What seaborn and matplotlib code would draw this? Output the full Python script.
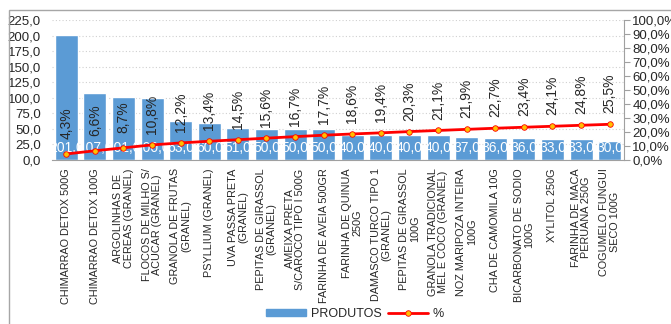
import numpy as np
import pandas as pd
import matplotlib
matplotlib.use("Agg")
import matplotlib.pyplot as plt
from matplotlib.patches import Rectangle, Patch
from matplotlib.lines import Line2D
from matplotlib.ticker import FuncFormatter, MultipleLocator
import seaborn as sns

# --- data -----------------------------------------------------------------
produtos = [
    "CHIMARRAO DETOX 500G",
    "CHIMARRAO DETOX 100G",
    "ARGOLINHAS DE\nCEREAS (GRANEL)",
    "FLOCOS DE MILHO S/\nACUCAR (GRANEL)",
    "GRANOLA DE FRUTAS\n(GRANEL)",
    "PSYLLIUM (GRANEL)",
    "UVA PASSA PRETA\n(GRANEL)",
    "PEPITAS DE GIRASSOL\n(GRANEL)",
    "AMEIXA PRETA\nS/CAROCO TIPO I 500G",
    "FARINHA DE AVEIA 500GR",
    "FARINHA DE QUINUA\n250G",
    "DAMASCO TURCO TIPO 1\n(GRANEL)",
    "PEPITAS DE GIRASSOL\n100G",
    "GRANOLA TRADICIONAL\nMEL E COCO (GRANEL)",
    "NOZ MARIPOZA INTEIRA\n100G",
    "CHA DE CAMOMILA 10G",
    "BICARBONATO DE SODIO\n100G",
    "XYLITOL 250G",
    "FARINHA DE MACA\nPERUANA 250G",
    "COGUMELO FUNGUI\nSECO 100G",
]
quantidades = [201, 107, 101, 100, 63, 60, 51, 50, 50, 50,
               40, 40, 40, 40, 37, 36, 36, 33, 33, 30]
percentuais = [4.3, 6.6, 8.7, 10.8, 12.2, 13.4, 14.5, 15.6, 16.7, 17.7,
               18.6, 19.4, 20.3, 21.1, 21.9, 22.7, 23.4, 24.1, 24.8, 25.5]

df = pd.DataFrame({
    "produto": produtos,
    "qtd": quantidades,
    "pct": percentuais,
    "pos": np.arange(len(produtos)),
})

# --- style ----------------------------------------------------------------
sns.set_theme(style="white")
plt.rcParams["font.family"] = ["Liberation Sans", "DejaVu Sans"]

BLUE = "#5B9BD5"
RED = "#FF0000"
MARK = "#FFC000"
TXT = "#262626"

fig = plt.figure(figsize=(6.71, 3.24), dpi=100)
ax = fig.add_axes([52 / 671, 164 / 324, 572 / 671, 140 / 324])

# outer chart frame
fig.patches.append(Rectangle((9 / 671, -0.1), 1.2, 314 / 324 + 0.1,
                             transform=fig.transFigure, fill=False,
                             edgecolor="#a6a6a6", linewidth=1.0, zorder=0))

# bars
sns.barplot(data=df, x="pos", y="qtd", color=BLUE, saturation=1,
            width=0.81, ax=ax, zorder=2)
ax.set_xlim(-0.5, len(produtos) - 0.5)
ax.set_ylim(0, 225)
ax.yaxis.set_major_locator(MultipleLocator(25))
ax.yaxis.set_major_formatter(FuncFormatter(lambda v, p: f"{v:.1f}".replace(".", ",")))
ax.yaxis.grid(True, linestyle=(0, (1, 2)), color="#d0d0d0", linewidth=0.8, zorder=0)
ax.set_axisbelow(True)
ax.set_xlabel("")
ax.set_ylabel("")
ax.tick_params(axis="y", labelsize=9.5, colors=TXT, length=0, pad=8)

# category labels, rotated and anchored to the axis
ax.set_xticks(df["pos"])
ax.set_xticklabels(df["produto"], rotation=90, fontsize=7.8, color=TXT,
                   ha="center", va="top", multialignment="center",
                   linespacing=1.05)
ax.tick_params(axis="x", length=0, pad=6)
# small boundary ticks between categories
ax.set_xticks(np.arange(len(produtos) + 1) - 0.5, minor=True)
ax.tick_params(axis="x", which="minor", length=4, color="#a0a0a0", direction="out")

for s in ["top", "left", "right"]:
    ax.spines[s].set_visible(False)
ax.spines["bottom"].set_color("#a0a0a0")
ax.spines["bottom"].set_linewidth(0.8)

# bar value labels near the base of each bar
for i, v in enumerate(df["qtd"]):
    ax.annotate(f"{v:.1f}".replace(".", ","), (i, 0), xytext=(0, 9),
                textcoords="offset points", ha="center", va="center",
                color="white", fontsize=10, zorder=5)

# cumulative percentage line on the secondary axis
ax2 = ax.twinx()
sns.lineplot(x=df["pos"], y=df["pct"] / 100, ax=ax2, color=RED, linewidth=2,
             marker="o", markersize=4, markerfacecolor=MARK,
             markeredgecolor=RED, markeredgewidth=0.6, zorder=4)
ax2.set_ylim(0, 1)
ax2.set_xlim(-0.5, len(produtos) - 0.5)
ax2.yaxis.set_major_locator(MultipleLocator(0.1))
ax2.yaxis.set_major_formatter(FuncFormatter(lambda v, p: f"{v * 100:.1f}%".replace(".", ",")))
ax2.tick_params(axis="y", labelsize=9.5, colors=TXT, length=4, width=0.8,
                direction="out", pad=2)
ax2.tick_params(axis="y", color="#a0a0a0")
ax2.set_ylabel("")
ax2.set_xlabel("")
for s in ["top", "left", "bottom"]:
    ax2.spines[s].set_visible(False)
ax2.spines["right"].set_color("#a0a0a0")
ax2.spines["right"].set_linewidth(0.8)
ax2.grid(False)

for i, p in enumerate(df["pct"]):
    ax2.annotate(f"{p:.1f}%".replace(".", ","), (i, p / 100), xytext=(0, 22),
                 textcoords="offset points", ha="center", va="center",
                 rotation=90, color=TXT, fontsize=10, zorder=6)

# legend at the bottom
handles = [
    Patch(facecolor=BLUE, edgecolor=BLUE, label="PRODUTOS"),
    Line2D([0], [0], color=RED, linewidth=2, marker="o", markersize=4,
           markerfacecolor=MARK, markeredgecolor=RED, markeredgewidth=0.6,
           label="%"),
]
fig.legend(handles=handles, loc="center", bbox_to_anchor=(355 / 671, 10 / 324),
           ncol=2, frameon=False, fontsize=9, handlelength=3.2,
           handleheight=0.55, columnspacing=0.5, handletextpad=0.4,
           labelcolor=TXT)

fig.savefig("out.png", dpi=100)
